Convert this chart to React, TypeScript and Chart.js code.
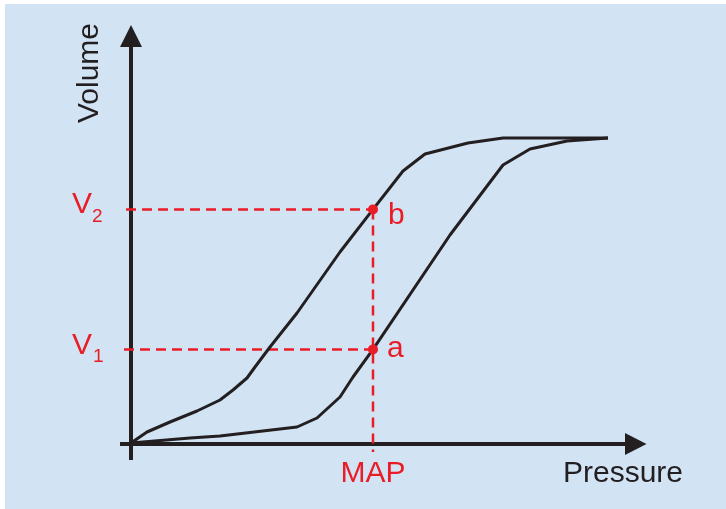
import React, { useEffect, useRef } from "react";
import { Chart, registerables } from "chart.js";

Chart.register(...registerables);

// Pressure (x) / Volume (y) in arbitrary units
const upperX = [0, 3.2, 7.8, 13.2, 17.8, 20.4, 23.2, 24.8, 27.8, 33.2, 41.8, 48.4, 54.4, 58.8, 67.4, 74.4, 95.4];
const upperY = [0, 2.75, 5.25, 8, 10.75, 13.25, 16.25, 19, 24, 32.5, 47.75, 58.4, 68, 72.25, 75, 76.25, 76.25];
const lowerX = [0, 11.8, 17.8, 33.2, 37.2, 41.8, 44.4, 48.4, 63.8, 69.1, 74.4, 79.8, 87.2, 95.4];
const lowerY = [0, 1.25, 1.75, 4, 6.25, 11.5, 16.5, 23.4, 52, 60.75, 69.5, 73.5, 75.5, 76.25];
const MAP = 48.4;
const V1 = 23.4;
const V2 = 58.4;
const xAxisRange = [-2.2, 103.1];
const yAxisRange = [-4.25, 104.5];
const hLineStart = [-1.4, -1];
const vLineBottom = -2.25;

const RED = "#e91d25";
const INK = "#231f20";
const FONT = "'Liberation Sans', Arial, Helvetica, sans-serif";

const zip = (xs: number[], ys: number[]) => xs.map((x, i) => ({ x, y: ys[i] }));

export default function App() {
  const ref = useRef<HTMLCanvasElement | null>(null);

  useEffect(() => {
    if (!ref.current) return;
    const decor = {
      id: "decor",
      beforeDatasetsDraw(chart: any) {
        const ctx = chart.ctx;
        const xs = chart.scales.x;
        const ys = chart.scales.y;
        const x0 = xs.getPixelForValue(0);
        const y0 = ys.getPixelForValue(0);
        ctx.save();
        ctx.strokeStyle = INK;
        ctx.fillStyle = INK;
        ctx.lineWidth = 4;
        // x axis
        const xTip = xs.getPixelForValue(xAxisRange[1]);
        const xBase = xs.getPixelForValue(98.8);
        ctx.beginPath();
        ctx.moveTo(xs.getPixelForValue(xAxisRange[0]), y0 + 1);
        ctx.lineTo(xBase, y0 + 1);
        ctx.stroke();
        ctx.beginPath();
        ctx.moveTo(xTip, y0 + 1);
        ctx.lineTo(xBase, y0 + 1 - 11);
        ctx.lineTo(xBase, y0 + 1 + 11);
        ctx.closePath();
        ctx.fill();
        // y axis
        const yTip = ys.getPixelForValue(yAxisRange[1]);
        const yBase = ys.getPixelForValue(99);
        ctx.beginPath();
        ctx.moveTo(x0, ys.getPixelForValue(yAxisRange[0]));
        ctx.lineTo(x0, yBase);
        ctx.stroke();
        ctx.beginPath();
        ctx.moveTo(x0, yTip);
        ctx.lineTo(x0 - 11, yBase);
        ctx.lineTo(x0 + 11, yBase);
        ctx.closePath();
        ctx.fill();
        ctx.restore();
      },
      afterDraw(chart: any) {
        const ctx = chart.ctx;
        const xs = chart.scales.x;
        const ys = chart.scales.y;
        const mapX = xs.getPixelForValue(MAP);
        const v1Y = ys.getPixelForValue(V1);
        const v2Y = ys.getPixelForValue(V2);
        ctx.save();
        ctx.textBaseline = "alphabetic";
        // Axis titles
        ctx.fillStyle = INK;
        ctx.font = `30px ${FONT}`;
        ctx.textAlign = "left";
        ctx.fillText("Pressure", 563, 482);
        ctx.save();
        ctx.translate(98, 73);
        ctx.rotate(-Math.PI / 2);
        ctx.textAlign = "center";
        ctx.fillText("Volume", 0, 0);
        ctx.restore();
        // Red labels
        ctx.fillStyle = RED;
        ctx.textAlign = "center";
        ctx.font = `30px ${FONT}`;
        ctx.fillText("MAP", mapX, 482);
        ctx.textAlign = "left";
        ctx.fillText("b", mapX + 15, v2Y + 15);
        ctx.fillText("a", mapX + 14, v1Y + 8);
        ctx.fillText("V", 72, v2Y + 4);
        ctx.fillText("V", 72, v1Y + 5);
        ctx.font = `19px ${FONT}`;
        ctx.fillText("2", 92, v2Y + 13);
        ctx.fillText("1", 93, v1Y + 13);
        ctx.restore();
      },
    };

    const dashed = (pts: { x: number; y: number }[]) => ({
      data: pts,
      borderColor: RED,
      borderWidth: 2.5,
      borderDash: [10, 6],
      pointRadius: 0,
      clip: false,
      order: 3,
    });

    const chart = new Chart(ref.current, {
      type: "line",
      data: {
        datasets: [
          dashed([{ x: hLineStart[1], y: V2 }, { x: MAP, y: V2 }]) as any,
          dashed([{ x: hLineStart[0], y: V1 }, { x: MAP, y: V1 }]),
          dashed([{ x: MAP, y: V2 }, { x: MAP, y: vLineBottom }]),
          {
            data: zip(upperX, upperY),
            borderColor: INK,
            borderWidth: 3,
            pointRadius: 0,
            tension: 0,
            borderJoinStyle: "round",
            clip: false,
            order: 2,
          },
          {
            data: zip(lowerX, lowerY),
            borderColor: INK,
            borderWidth: 3,
            pointRadius: 0,
            tension: 0,
            borderJoinStyle: "round",
            clip: false,
            order: 2,
          },
          {
            data: [{ x: MAP, y: V2 }, { x: MAP, y: V1 }],
            showLine: false,
            pointRadius: 5,
            pointBackgroundColor: RED,
            pointBorderWidth: 0,
            borderColor: RED,
            clip: false,
            order: 1,
          },
        ],
      },
      options: {
        responsive: false,
        animation: false,
        events: [],
        layout: { padding: { left: 131, right: 95, top: 43, bottom: 66 } },
        plugins: { legend: { display: false }, tooltip: { enabled: false } },
        scales: {
          x: { type: "linear", min: 0, max: 100, display: false },
          y: { type: "linear", min: 0, max: 100, display: false },
        },
      },
      plugins: [decor],
    });
    return () => chart.destroy();
  }, []);

  return (
    <div style={{ position: "absolute", left: 0, top: 0, width: 726, height: 509, background: "#ffffff", overflow: "hidden" }}>
      <div style={{ position: "absolute", left: 5, top: 4, right: 0, bottom: 0, background: "#d2e3f4" }} />
      <canvas ref={ref} width={726} height={509} style={{ position: "absolute", left: 0, top: 0, width: 726, height: 509 }} />
    </div>
  );
}
